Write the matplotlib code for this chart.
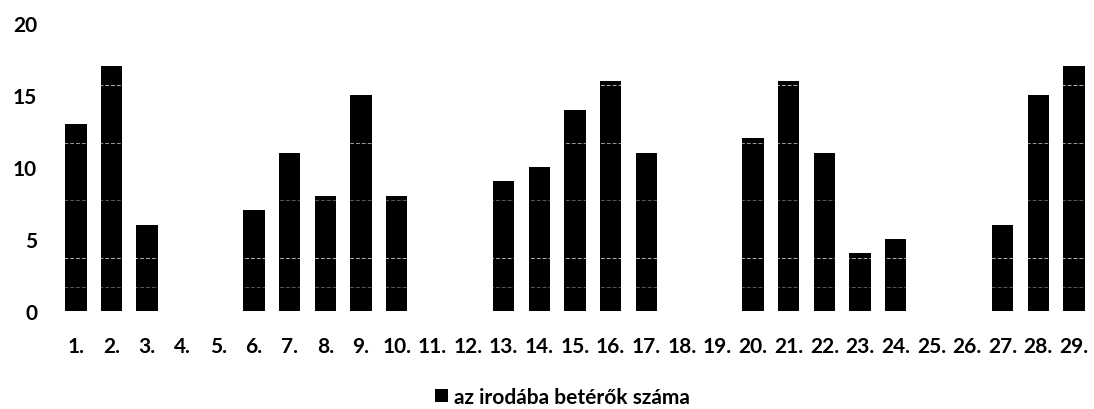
import matplotlib
matplotlib.use("Agg")
import matplotlib.pyplot as plt

plt.rcParams['font.family'] = ['Lato', 'DejaVu Sans']

# napok es az irodaba beterok szama
days = [f"{i}." for i in range(1, 30)]
visitors = [13, 17, 6, 0, 0, 7, 11, 8, 15, 8, 0, 0, 9, 10, 14, 16, 11, 0, 0,
            12, 16, 11, 4, 5, 0, 0, 6, 15, 17]
yticks = [0, 5, 10, 15, 20]
series_name = "az irodába betérők száma"

# scan artefacts: faint white lines across the bars
scan_lines = [1.7, 3.7, 7.7, 11.7, 15.7]
scan_alpha = [0.35, 0.7, 0.35, 0.6, 0.7]

fig = plt.figure(figsize=(10.94, 4.10), dpi=100)
ax = fig.add_axes([0.053, 0.239, 0.945, 0.702])

x = list(range(1, len(days) + 1))
bars = ax.bar(x, visitors, width=0.6, color="black", label=series_name, zorder=2)
for yv, a in zip(scan_lines, scan_alpha):
    ax.axhline(yv, color="white", lw=0.7, alpha=a, ls=(0, (4, 2)), zorder=3)

ax.set_xlim(0.5, len(days) + 0.5)
ax.set_ylim(0, 20)
ax.set_xticks(x)
ax.set_xticklabels(days)
ax.set_yticks(yticks)
ax.tick_params(axis="both", length=0, labelsize=15, colors="black")
for lab in ax.get_xticklabels() + ax.get_yticklabels():
    lab.set_fontweight("bold")
ax.tick_params(axis="y", pad=15)
ax.tick_params(axis="x", pad=18)
for s in ax.spines.values():
    s.set_visible(False)

fig.legend(handles=[bars], labels=[series_name], loc="center",
           bbox_to_anchor=(0.514, 0.03), frameon=False,
           prop={"size": 15, "weight": "bold"},
           handlelength=0.6, handleheight=0.6, handletextpad=0.3)

fig.savefig("out.png", dpi=100)
